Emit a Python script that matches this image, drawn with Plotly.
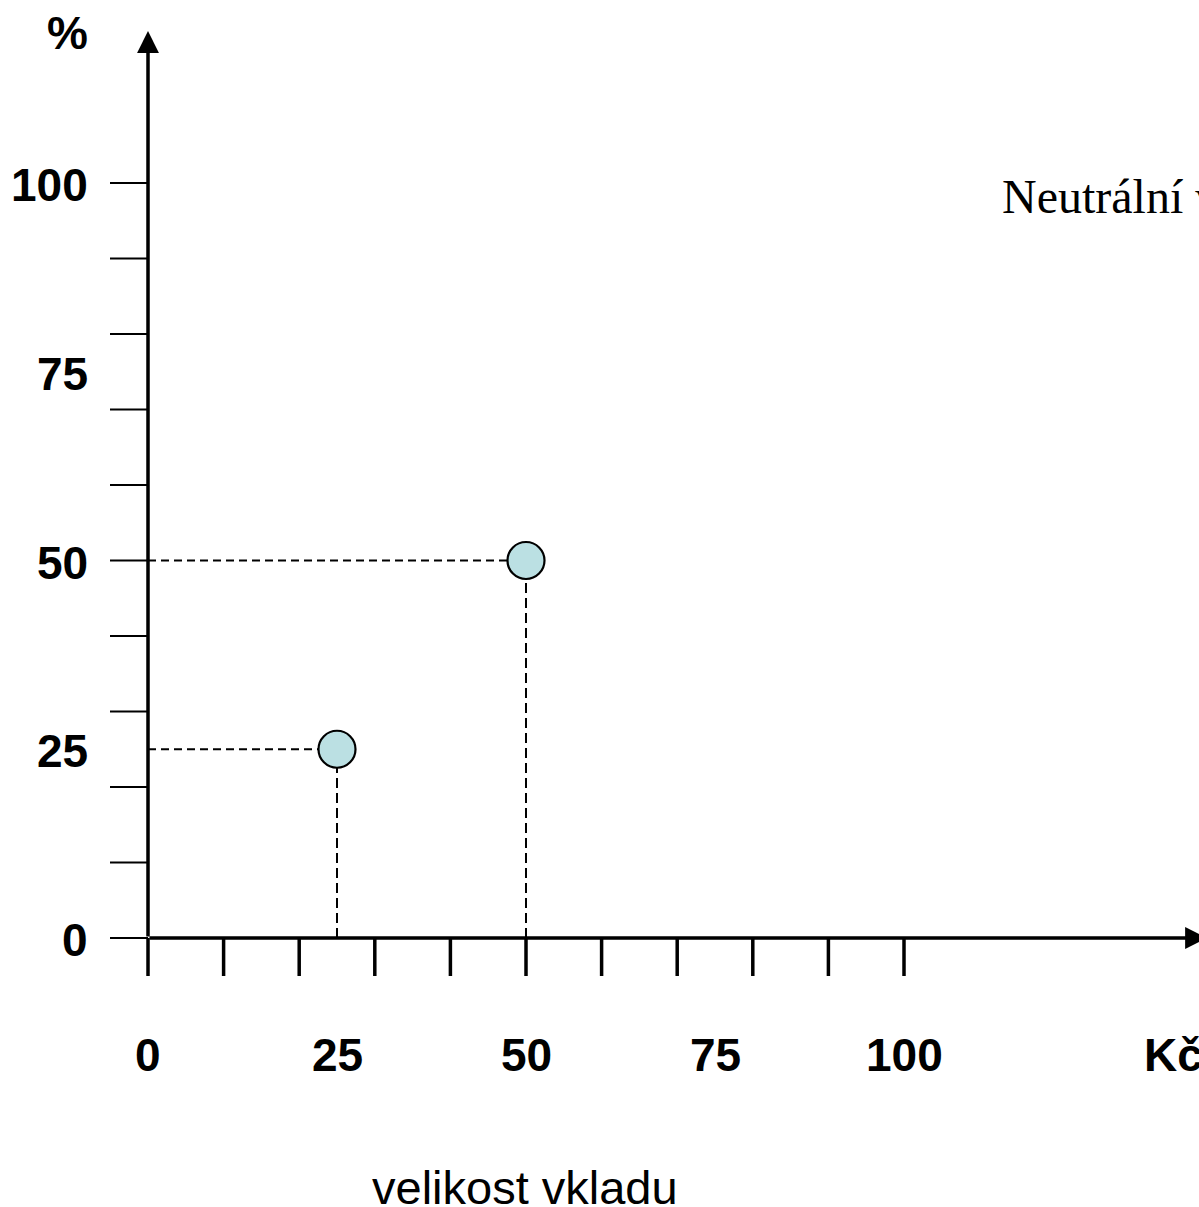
import plotly.graph_objects as go

# ---------------- data ----------------
x_minor_ticks = [0, 10, 20, 30, 40, 50, 60, 70, 80, 90, 100]
y_minor_ticks = [0, 10, 20, 30, 40, 50, 60, 70, 80, 90, 100]
x_label_vals = [0, 25, 50, 75, 100]
x_label_text = ["0", "25", "50", "75", "100"]
y_label_vals = [0, 25, 50, 75, 100]
y_label_text = ["0", "25", "50", "75", "100"]
point_x = [25, 50]
point_y = [25, 50]
x_unit = "Kč"
y_unit = "%"
x_title = "velikost vkladu"
side_text = "Neutrální vůči riziku"

# ---------------- layout geometry ----------------
W, H = 1199, 1207
X0_PX, Y0_PX = 148, 938      # pixel position of origin
SX, SY = 7.56, 7.55          # pixels per data unit


def dx(px):
    return px / SX


def dy(px):
    return px / SY


x_range = [-X0_PX / SX, (W - X0_PX) / SX]
y_range = [-(H - Y0_PX) / SY, Y0_PX / SY]

BOLD = dict(family="Liberation Sans", size=46, color="black", weight="bold")

fig = go.Figure()

shapes = []
# dashed guide lines
for px_, py_ in zip(point_x, point_y):
    shapes.append(dict(type="line", xref="x", yref="y", x0=0, x1=px_, y0=py_, y1=py_,
                       line=dict(color="black", width=2, dash="8px,5px"), layer="below"))
    shapes.append(dict(type="line", xref="x", yref="y", x0=px_, x1=px_, y0=0, y1=py_,
                       line=dict(color="black", width=2, dash="10px,5px"), layer="below"))
# y ticks (thin, to the left)
for v in y_minor_ticks:
    shapes.append(dict(type="line", xref="x", yref="y", x0=-dx(38), x1=0, y0=v, y1=v,
                       line=dict(color="black", width=2)))
# x ticks (thick, downward)
for u in x_minor_ticks:
    shapes.append(dict(type="line", xref="x", yref="y", x0=u, x1=u, y0=-dy(38), y1=0,
                       line=dict(color="black", width=3.5)))

annotations = []
# axes with arrows
annotations.append(dict(x=0, y=dy(Y0_PX - 31), ax=0, ay=0, xref="x", yref="y",
                        axref="x", ayref="y", text="", showarrow=True,
                        arrowhead=2, arrowsize=1.25, arrowwidth=3.5, arrowcolor="black"))
annotations.append(dict(x=dx(1207 - X0_PX), y=0, ax=0, ay=0, xref="x", yref="y",
                        axref="x", ayref="y", text="", showarrow=True,
                        arrowhead=2, arrowsize=1.25, arrowwidth=3.5, arrowcolor="black"))

# y labels
for v, t in zip(y_label_vals, y_label_text):
    annotations.append(dict(x=0, y=v, xref="x", yref="y", text=t, showarrow=False,
                            xanchor="right", yanchor="middle", xshift=-58, yshift=-2,
                            font=BOLD))
# x labels
for u, t in zip(x_label_vals, x_label_text):
    annotations.append(dict(x=u, y=0, xref="x", yref="y", text=t, showarrow=False,
                            xanchor="center", yanchor="middle", yshift=-117,
                            font=BOLD))
# units
annotations.append(dict(x=dx(1142 - X0_PX), y=0, xref="x", yref="y", text=x_unit,
                        showarrow=False, xanchor="left", yanchor="middle", yshift=-117,
                        font=BOLD))
annotations.append(dict(x=67 / W, y=1 - 33 / H, xref="paper", yref="paper", text=y_unit,
                        showarrow=False, xanchor="center", yanchor="middle", font=BOLD))
# axis title
annotations.append(dict(x=525 / W, y=1 - 1187 / H, xref="paper", yref="paper", text=x_title,
                        showarrow=False, xanchor="center", yanchor="middle",
                        font=dict(family="Liberation Sans", size=47, color="black")))
# side text (cut off at right edge)
annotations.append(dict(x=1000 / W, y=1 - 197 / H, xref="paper", yref="paper", text=side_text,
                        showarrow=False, xanchor="left", yanchor="middle",
                        font=dict(family="Liberation Serif", size=48, color="black")))

fig.add_trace(go.Scatter(
    x=point_x, y=point_y, mode="markers",
    marker=dict(size=37, color="#BBE0E3", line=dict(color="black", width=2.2)),
    cliponaxis=False, hoverinfo="skip", showlegend=False,
))

fig.update_layout(
    width=W, height=H,
    margin=dict(l=0, r=0, t=0, b=0),
    paper_bgcolor="white", plot_bgcolor="white",
    xaxis=dict(range=x_range, visible=False, fixedrange=True),
    yaxis=dict(range=y_range, visible=False, fixedrange=True),
    shapes=shapes, annotations=annotations, showlegend=False,
)

fig.write_html(
    "out.html",
    config={"displayModeBar": False},
    post_script="document.body.style.margin='0';document.body.style.overflow='hidden';",
)
